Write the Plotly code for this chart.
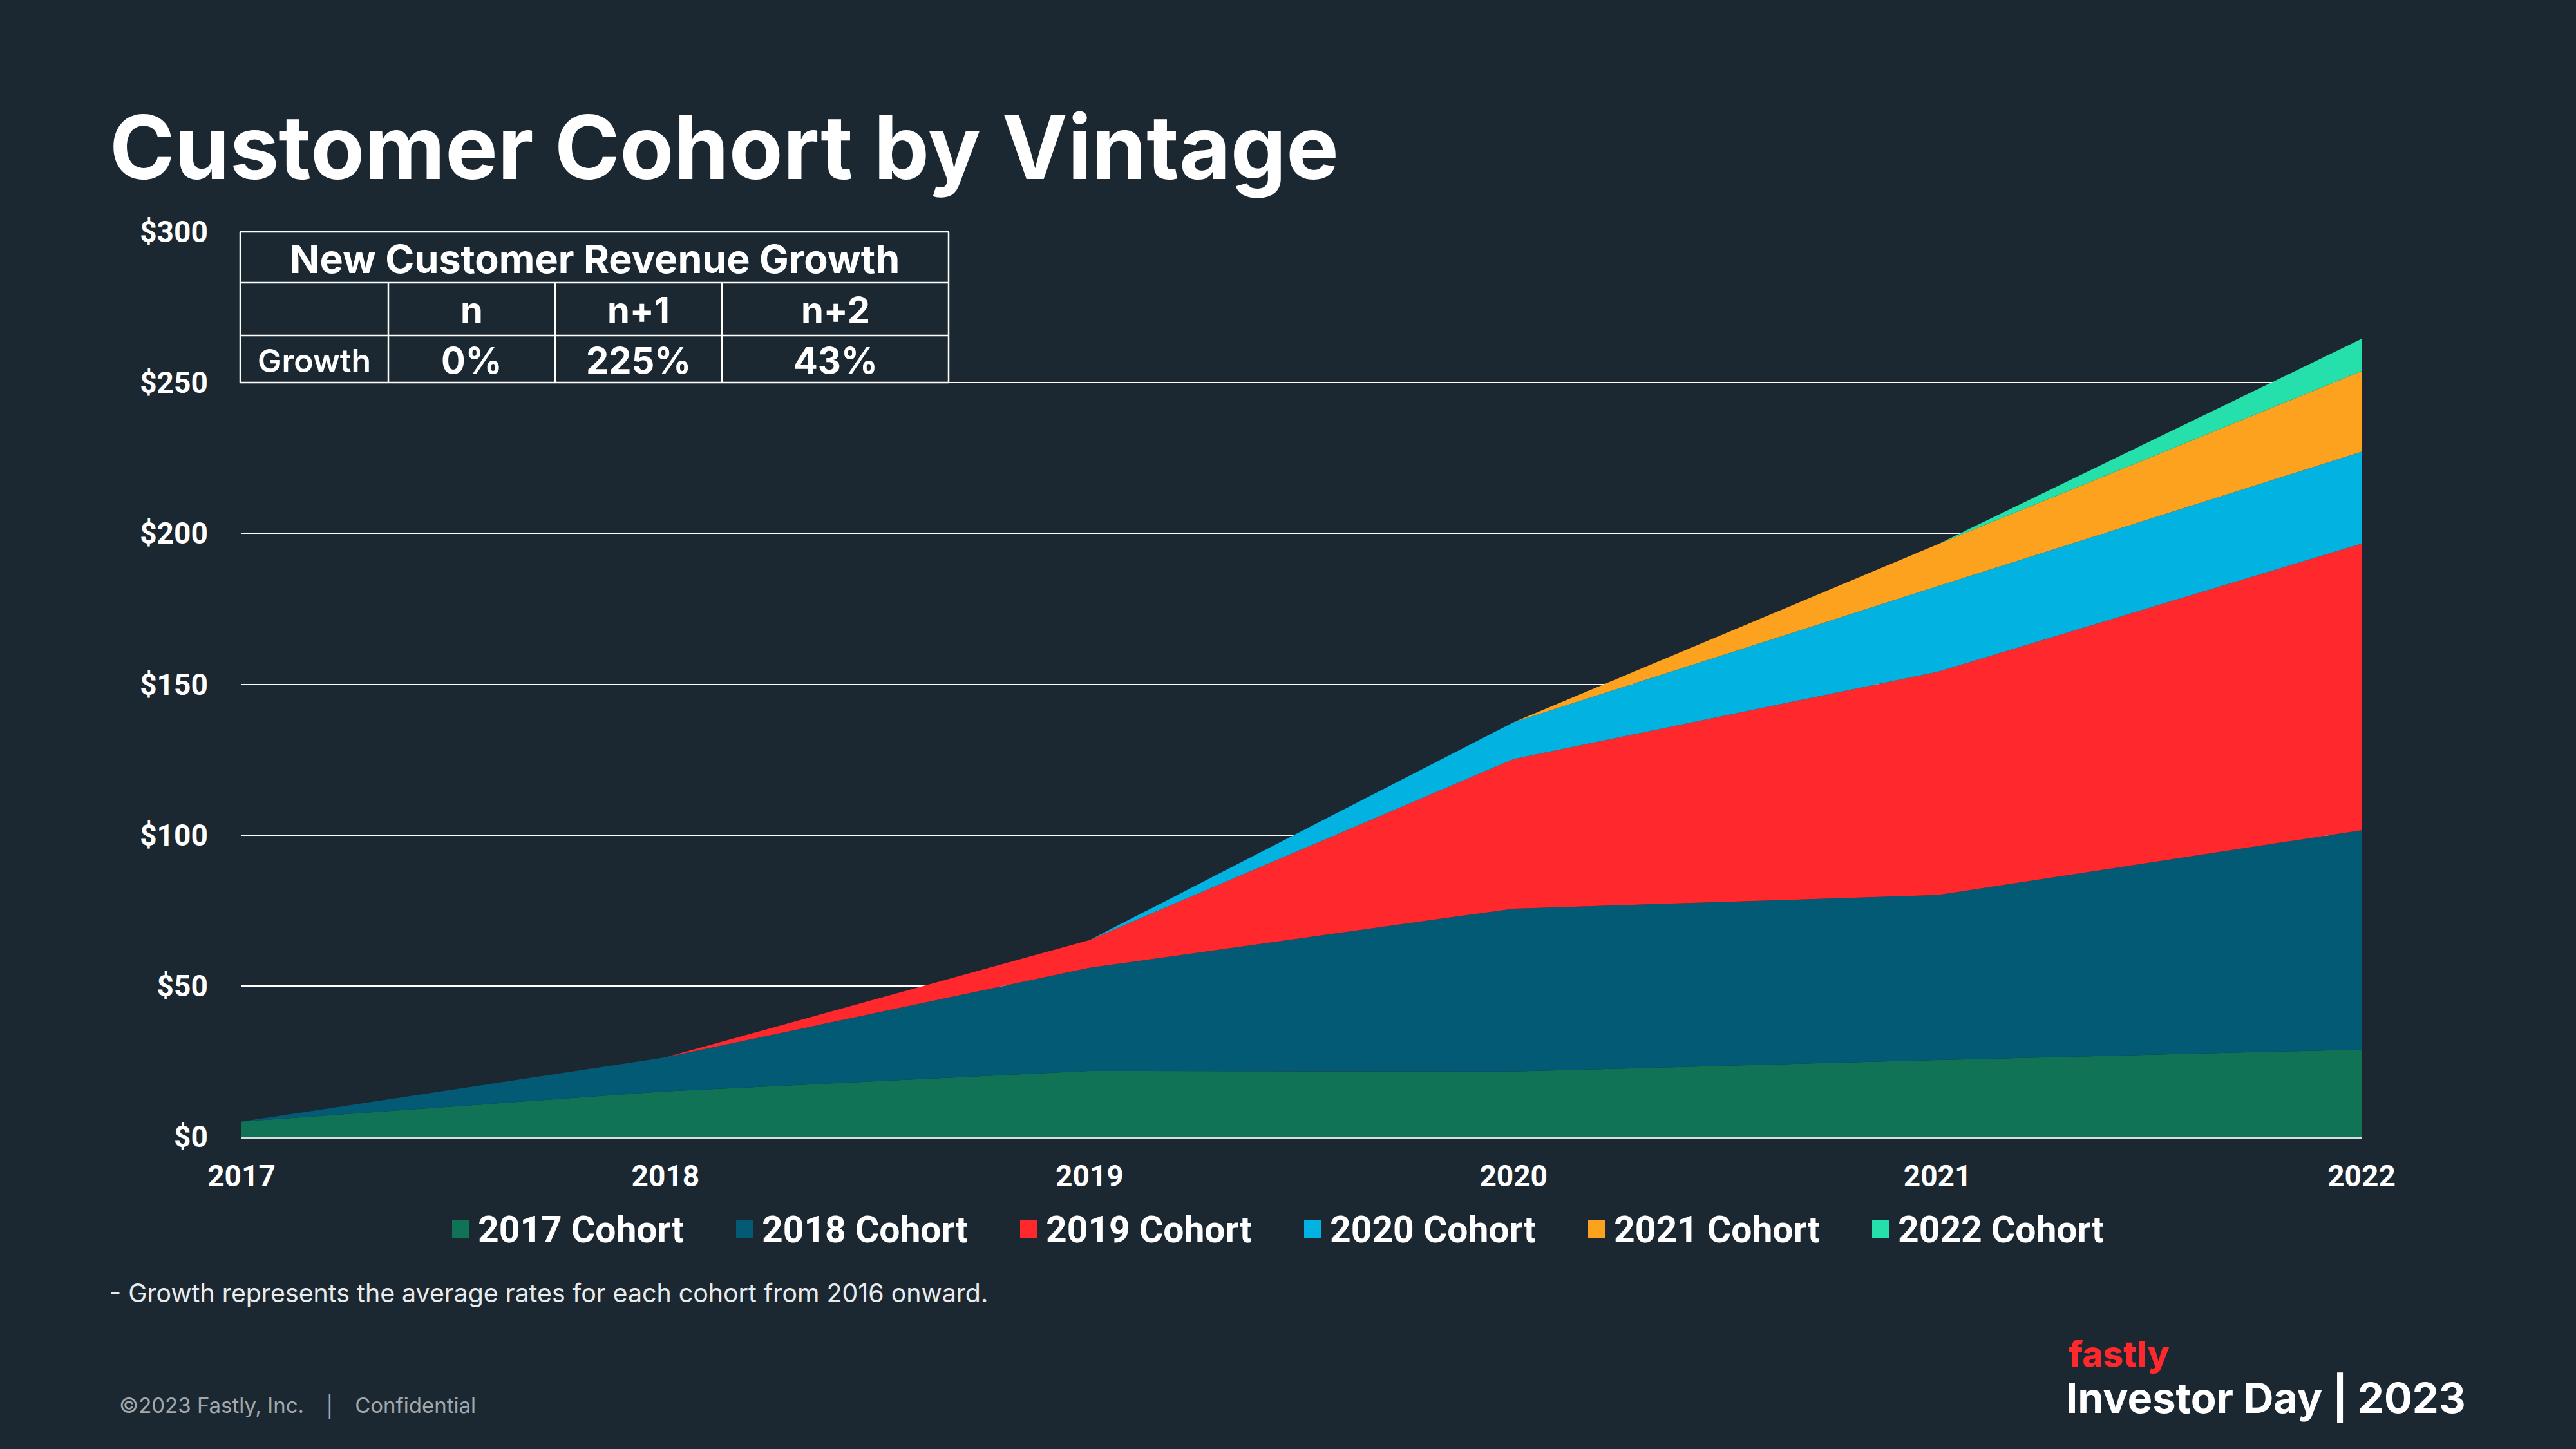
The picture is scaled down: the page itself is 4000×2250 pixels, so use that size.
import plotly.graph_objects as go

# ---------------- data ----------------
years = [2017, 2018, 2019, 2020, 2021, 2022]
cohort_names = ["2017 Cohort", "2018 Cohort", "2019 Cohort", "2020 Cohort", "2021 Cohort", "2022 Cohort"]
cohort_2017 = [5.0, 15.0, 21.8, 21.6, 25.4, 28.9]
cohort_2018 = [0.0, 11.3, 34.2, 54.0, 54.7, 72.7]
cohort_2019 = [0.0, 0.0, 9.2, 49.6, 74.0, 95.0]
cohort_2020 = [0.0, 0.0, 0.0, 12.2, 28.4, 30.5]
cohort_2021 = [0.0, 0.0, 0.0, 0.0, 13.9, 26.7]
cohort_2022 = [0.0, 0.0, 0.0, 0.0, 0.0, 10.7]
cohort_colors = ["#107355", "#035a74", "#ff282d", "#02b2e0", "#fda21e", "#25e0ab"]

y_tickvals = [0, 50, 100, 150, 200, 250, 300]
y_ticktext = ["$0", "$50", "$100", "$150", "$200", "$250", "$300"]

table_title = "New Customer Revenue Growth"
table_cols = ["n", "n+1", "n+2"]
table_row_label = "Growth"
table_values = ["0%", "225%", "43%"]

BG = "#1b2831"
W, H = 4000, 2250
L, R, T, B = 375, 3667, 360, 1765  # plot area pixel box


def PX(x):
    return (x - L) / (R - L)


def PY(y):
    return (B - y) / (B - T)


series = [cohort_2017, cohort_2018, cohort_2019, cohort_2020, cohort_2021, cohort_2022]

fig = go.Figure()
for name, vals, col in zip(cohort_names, series, cohort_colors):
    fig.add_trace(go.Scatter(
        x=years, y=vals, name=name, mode="lines", stackgroup="one",
        line=dict(width=0, color=col), fillcolor=col, showlegend=False,
    ))

shapes = []
annotations = []

# ---------- title ----------
annotations.append(dict(
    text="Customer Cohort by Vintage", x=PX(168), y=PY(228), xref="paper", yref="paper",
    xanchor="left", yanchor="middle", showarrow=False,
    font=dict(family="Inter", size=137, color="#ffffff", weight=700),
))

# ---------- table ----------
tx = [373, 603, 862, 1121, 1473]
ty = [360, 439, 521, 594]
lc = dict(color="#ffffff", width=2.5)
for y in ty:
    shapes.append(dict(type="line", xref="paper", yref="paper", x0=PX(tx[0]), x1=PX(tx[-1]),
                       y0=PY(y), y1=PY(y), line=lc, layer="above"))
shapes.append(dict(type="line", xref="paper", yref="paper", x0=PX(tx[0]), x1=PX(tx[0]),
                   y0=PY(ty[0]), y1=PY(ty[-1]), line=lc, layer="above"))
shapes.append(dict(type="line", xref="paper", yref="paper", x0=PX(tx[-1]), x1=PX(tx[-1]),
                   y0=PY(ty[0]), y1=PY(ty[-1]), line=lc, layer="above"))
for x in tx[1:-1]:
    shapes.append(dict(type="line", xref="paper", yref="paper", x0=PX(x), x1=PX(x),
                       y0=PY(ty[1]), y1=PY(ty[-1]), line=lc, layer="above"))

tfont = dict(family="Inter", size=56, color="#ffffff", weight=700)
annotations.append(dict(text=table_title, x=PX((tx[0] + tx[-1]) / 2), y=PY(402), xref="paper", yref="paper",
                        xanchor="center", yanchor="middle", showarrow=False,
                        font=dict(family="Inter", size=61, color="#ffffff", weight=700)))
for i, c in enumerate(table_cols):
    annotations.append(dict(text=c, x=PX((tx[i + 1] + tx[i + 2]) / 2), y=PY(482), xref="paper", yref="paper",
                            xanchor="center", yanchor="middle", showarrow=False, font=tfont))
    annotations.append(dict(text=table_values[i], x=PX((tx[i + 1] + tx[i + 2]) / 2), y=PY(560), xref="paper",
                            yref="paper", xanchor="center", yanchor="middle", showarrow=False, font=tfont))
annotations.append(dict(text=table_row_label, x=PX((tx[0] + tx[1]) / 2), y=PY(560), xref="paper", yref="paper",
                        xanchor="center", yanchor="middle", showarrow=False,
                        font=dict(family="Inter", size=50, color="#ffffff", weight=600)))

# ---------- legend (manual) ----------
for i, (name, col) in enumerate(zip(cohort_names, cohort_colors)):
    x0 = 702 + i * 441
    shapes.append(dict(type="rect", xref="paper", yref="paper", x0=PX(x0), x1=PX(x0 + 26),
                       y0=PY(1923), y1=PY(1895), fillcolor=col, line=dict(width=0)))
    annotations.append(dict(text=name, x=PX(x0 + 38), y=PY(1909), xref="paper", yref="paper",
                            xanchor="left", yanchor="middle", showarrow=False,
                            font=dict(family="Roboto", size=57, color="#ffffff", weight=700)))

# ---------- footnotes ----------
annotations.append(dict(text="- Growth represents the average rates for each cohort from 2016 onward.",
                        x=PX(168), y=PY(2008), xref="paper", yref="paper", xanchor="left", yanchor="middle",
                        showarrow=False, font=dict(family="Inter", size=39.3, color="#e8eaec")))
annotations.append(dict(text="©2023 Fastly, Inc.   │   Confidential",
                        x=PX(183), y=PY(2183), xref="paper", yref="paper", xanchor="left", yanchor="middle",
                        showarrow=False, font=dict(family="Inter", size=33, color="#a3a8ad")))
annotations.append(dict(text="fastly", x=PX(3210), y=PY(2102), xref="paper", yref="paper",
                        xanchor="left", yanchor="middle", showarrow=False,
                        font=dict(family="Inter", size=55, color="#ff282d", weight=800)))
annotations.append(dict(text="Investor Day | 2023", x=PX(3206), y=PY(2170), xref="paper", yref="paper",
                        xanchor="left", yanchor="middle", showarrow=False,
                        font=dict(family="Inter", size=65, color="#ffffff", weight=700)))

fig.update_layout(
    width=W, height=H,
    margin=dict(l=L, r=W - R, t=T, b=H - B, pad=0),
    paper_bgcolor=BG, plot_bgcolor=BG,
    showlegend=False,
    shapes=shapes, annotations=annotations,
    xaxis=dict(range=[2017, 2022], tickvals=years, ticktext=[str(y) for y in years],
               showgrid=False, zeroline=False, showline=True, linecolor="#d9dddc", linewidth=3,
               ticks="outside", ticklen=19, tickcolor="rgba(0,0,0,0)",
               tickfont=dict(family="Roboto", size=46, color="#ffffff", weight=700)),
    yaxis=dict(range=[0, 300], tickvals=y_tickvals, ticktext=y_ticktext,
               showgrid=True, gridcolor="#ffffff", gridwidth=2, zeroline=False, showline=False,
               ticks="outside", ticklen=42, tickcolor="rgba(0,0,0,0)",
               tickfont=dict(family="Roboto", size=46, color="#ffffff", weight=700)),
)

fig.write_html("out.html")
